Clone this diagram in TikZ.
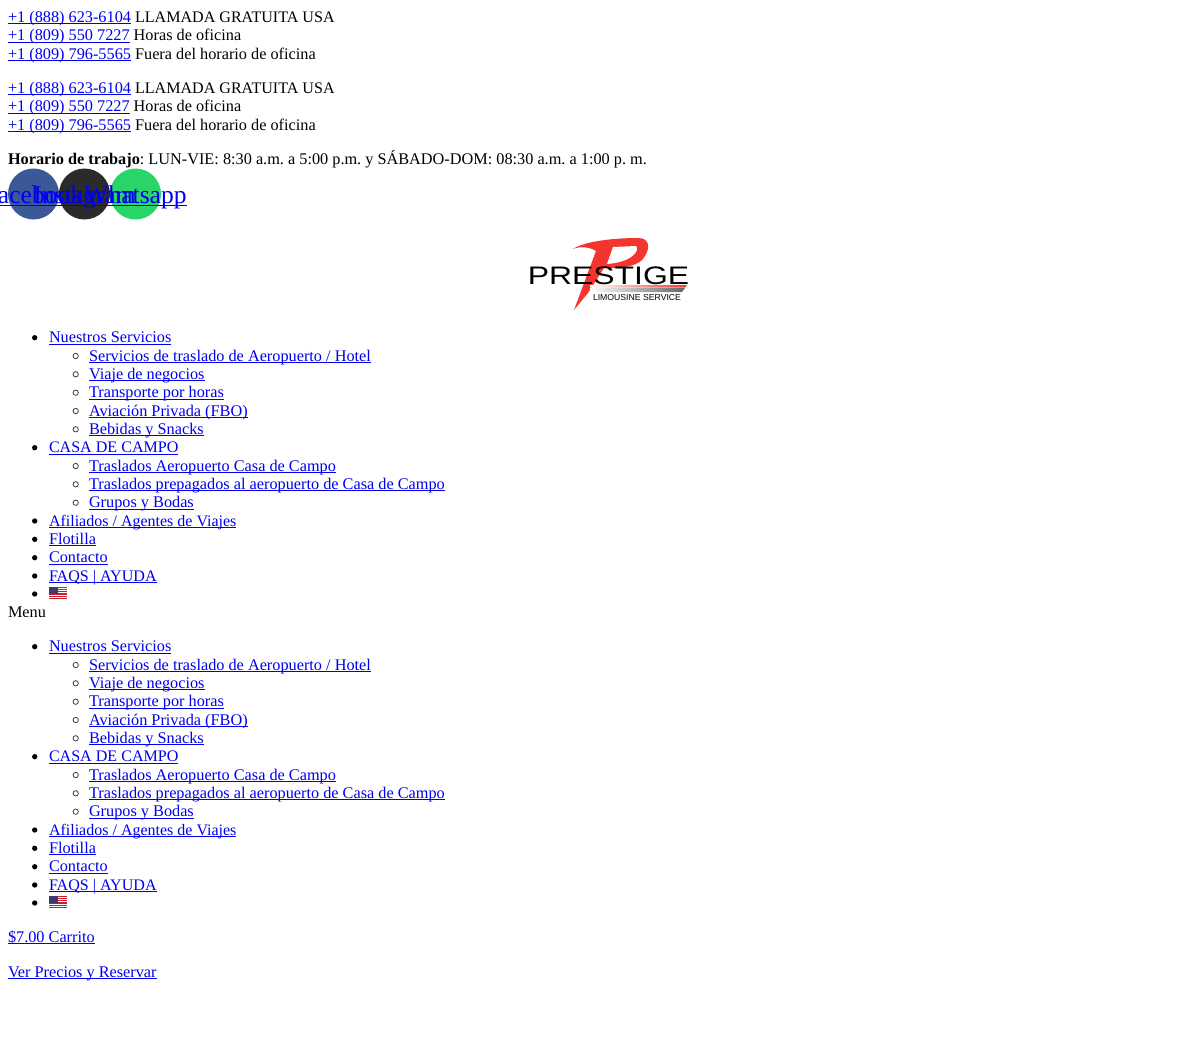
\documentclass[tikz,border=0pt]{standalone}
\usepackage{fontspec}
\setmainfont{Liberation Serif}
\newfontfamily\logofont{Liberation Sans}
\definecolor{linkblue}{HTML}{0000EE}
\definecolor{fbblue}{HTML}{3B5998}
\definecolor{igdark}{HTML}{2B2B2B}
\definecolor{wagreen}{HTML}{29D468}
\definecolor{logored}{HTML}{F5332F}
\definecolor{flagblue}{HTML}{3C3B6E}
\definecolor{flagred}{HTML}{C8202F}
\newcommand{\lk}[1]{\begingroup\color{linkblue}\setbox0\hbox{#1}\rlap{\rule[-0.12em]{\wd0}{0.06em}}\box0\endgroup}
\newcommand{\nrw}[1]{{\fontsize{12.05pt}{14pt}\selectfont #1}}
\tikzset{
  txt/.style={anchor=base west,inner sep=0pt,outer sep=0pt,font=\fontsize{12.2pt}{14pt}\selectfont\frenchspacing,text=black},
  social/.style={anchor=base,inner sep=0pt,outer sep=0pt,font=\fontsize{19.2pt}{22pt}\selectfont},
  bigdot/.style={circle,fill=black,draw=none,minimum size=4pt,inner sep=0pt},
  hollowdot/.style={circle,draw=black!75,fill=none,line width=0.6pt,minimum size=4pt,inner sep=0pt},
}
\newcommand{\flagat}[2]{%
  \fill[white] (#1,#2) rectangle ++(18,-12);
  \foreach \s in {0,2,4,6,8,10,12}{\fill[flagred] (#1,#2-\s*0.923) rectangle ++(18,-0.923);}
  \fill[flagblue] (#1,#2) rectangle ++(9,-6.5);
}
% one list: #1 prefix, #2 vertical offset
\newcommand{\menublock}[2]{%
  \foreach \nm/\x/\y/\t/\k in {
    a/49/342.7/{Nuestros Servicios}/b,
    b/89/361/{Servicios de traslado de Aeropuerto / Hotel}/h,
    c/89/379.3/{Viaje de negocios}/h,
    d/89/397.7/{Transporte por horas}/h,
    e/89/416/{Aviación Privada (FBO)}/h,
    f/89/434.3/{Bebidas y Snacks}/h,
    g/49/452.7/{\nrw{CASA DE CAMPO}}/b,
    i/89/471/{Traslados Aeropuerto Casa de Campo}/h,
    j/89/489.3/{Traslados prepagados al aeropuerto de Casa de Campo}/h,
    k/89/507.7/{Grupos y Bodas}/h,
    l/49/526/{\fontsize{12pt}{14pt}\selectfont Afiliados / Agentes de Viajes}/b,
    m/49/544.3/{Flotilla}/b,
    n/49/562.7/{Contacto}/b,
    o/49/581/{\nrw{FAQS | AYUDA}}/b}{
    \node[txt] (#1\nm) at (\x,-\y-#2) {\lk{\t}};
    \ifnum\pdfstrcmp{\k}{b}=0
      \node[bigdot] (#1\nm dot) at (34.7,-\y-#2+5) {};
    \else
      \node[hollowdot] (#1\nm dot) at (75.7,-\y-#2+5) {};
    \fi
  }
  \node[bigdot] (#1pdot) at (34.7,-594-#2) {};
  \flagat{49}{-587-#2}
}
\begin{document}
\begin{tikzpicture}[x=0.75pt,y=0.75pt]
\useasboundingbox (0,0) rectangle (1200,-1057);
\clip (0,0) rectangle (1200,-1057);
\fill[white] (0,0) rectangle (1200,-1057);
% phone blocks
\node[txt] (p1) at (8,-22.5) {\lk{+1 (888) 623-6104} \nrw{LLAMADA GRATUITA USA}};
\node[txt] (p2) at (8,-40.8) {\lk{+1 (809) 550 7227} Horas de oficina};
\node[txt] (p3) at (8,-59.1) {\lk{+1 (809) 796-5565} Fuera del horario de oficina};
\node[txt] (q1) at (8,-93.5) {\lk{+1 (888) 623-6104} \nrw{LLAMADA GRATUITA USA}};
\node[txt] (q2) at (8,-111.8) {\lk{+1 (809) 550 7227} Horas de oficina};
\node[txt] (q3) at (8,-130.1) {\lk{+1 (809) 796-5565} Fuera del horario de oficina};
\node[txt] (hours) at (8,-164.6) {\textbf{Horario de trabajo}: LUN-VIE: 8:30 a.m. a 5:00 p.m. y SÁBADO-DOM: 08:30 a.m. a 1:00 p. m.};
% social circles
\fill[fbblue] (33.5,-194) circle (25.5);
\fill[igdark] (84.5,-194) circle (25.5);
\fill[wagreen] (135.5,-194) circle (25.5);
\node[social] (fb) at (33.5,-203) {\lk{Facebook}};
\node[social] (ig) at (84.5,-203) {\lk{Instagram}};
\node[social] (wa) at (135.5,-203) {\lk{Whatsapp}};
% logo
\fill[logored] (573,-249) .. controls (585,-241) and (615,-238) .. (638,-238)
   .. controls (650,-238) and (650,-248) .. (645,-256)
   .. controls (640,-266) and (625,-268) .. (604,-268)
   -- (588,-293) -- (574,-310) -- (596,-251)
   .. controls (590,-247) and (580,-246) .. (573,-249) -- cycle;
\fill[white] (613,-247) -- (636,-246) .. controls (640,-250) and (633,-262) .. (607,-264) -- cycle;
\shade[left color=white,right color=logored] (590,-285) -- (687,-285) -- (685,-287.5) -- (590,-287.5) -- cycle;
\shade[left color=white,right color=black!60] (590,-288) -- (685,-288) -- (682,-292) -- (590,-292) -- cycle;
\node[inner sep=0pt,outer sep=0pt,anchor=base,xscale=1.26,font=\logofont\fontsize{19pt}{20pt}\selectfont,text=black] (logotext) at (608.5,-284) {PRESTIGE};
\node[inner sep=0pt,outer sep=0pt,anchor=center,font=\logofont\fontsize{6.5pt}{8pt}\selectfont,text=black] (logosub) at (637,-298) {LIMOUSINE SERVICE};
\menublock{u}{0}
\node[txt] (menu) at (8,-617.5) {Menu};
\menublock{v}{309}
\node[txt] (cart) at (8,-942.5) {\lk{\$7.00 Carrito}};
\node[txt] (book) at (8,-977) {\lk{Ver Precios y Reservar}};
\end{tikzpicture}
\end{document}
